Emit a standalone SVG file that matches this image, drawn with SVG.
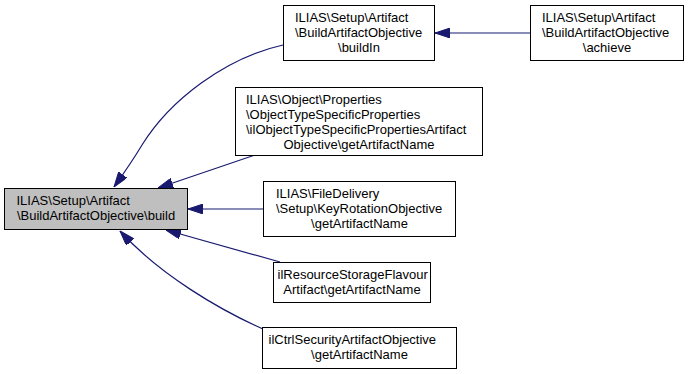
<svg xmlns="http://www.w3.org/2000/svg" width="688" height="374" viewBox="0 0 688 374">
<style>
.n rect{fill:#ffffff;stroke:#000000;stroke-width:1}
.n.root rect{fill:#bfbfbf}
.n text{font-family:"Liberation Sans",Arial,sans-serif;font-size:13px;fill:#000000}
.n text.m{text-anchor:middle}
.e path{fill:none;stroke:#191970;stroke-width:1.2;marker-end:url(#ah)}
</style>
<defs>
<marker id="ah" viewBox="0 0 15 10" refX="15" refY="5" markerWidth="15" markerHeight="10" markerUnits="userSpaceOnUse" orient="auto">
<path d="M0,0 L15,5 L0,10 z" fill="#191970" stroke="#191970" stroke-width="1"/>
</marker>
</defs>
<rect width="688" height="374" fill="#ffffff"/>
<g id="edges" class="e">
<path d="M530,33 L435,33"/>
<path d="M283,45 C225,58 170,100 142,145 C133,160 124,173 114,187"/>
<path d="M255,155 L158,188"/>
<path d="M263,209 L188,209"/>
<path d="M280,262 L166,230"/>
<path d="M263,329 C220,310 160,275 120,231"/>
</g>
<g id="root" class="n root">
<rect x="4.5" y="188.5" width="183" height="41"/>
<text x="16.5" y="205">ILIAS\Setup\Artifact</text>
<text class="m" x="96" y="220">\BuildArtifactObjective\build</text>
</g>
<g id="buildIn" class="n">
<rect x="283.5" y="5.5" width="151" height="55"/>
<text x="295" y="22">ILIAS\Setup\Artifact</text>
<text x="295" y="37">\BuildArtifactObjective</text>
<text class="m" x="359" y="52">\buildIn</text>
</g>
<g id="achieve" class="n">
<rect x="530.5" y="5.5" width="153" height="55"/>
<text x="542" y="22">ILIAS\Setup\Artifact</text>
<text x="542" y="37">\BuildArtifactObjective</text>
<text class="m" x="607" y="52">\achieve</text>
</g>
<g id="objtype" class="n">
<rect x="235.5" y="87.5" width="247" height="68"/>
<text x="246" y="103.5">ILIAS\Object\Properties</text>
<text x="246" y="118.5">\ObjectTypeSpecificProperties</text>
<text x="246" y="133.5">\ilObjectTypeSpecificPropertiesArtifact</text>
<text class="m" x="359" y="148.5">Objective\getArtifactName</text>
</g>
<g id="keyrot" class="n">
<rect x="263.5" y="181.5" width="192" height="55"/>
<text x="276" y="198">ILIAS\FileDelivery</text>
<text x="276" y="213">\Setup\KeyRotationObjective</text>
<text class="m" x="359.5" y="228">\getArtifactName</text>
</g>
<g id="ilres" class="n">
<rect x="273.5" y="262.5" width="157" height="40"/>
<text x="277.5" y="279">ilResourceStorageFlavour</text>
<text class="m" x="352" y="294">Artifact\getArtifactName</text>
</g>
<g id="ilctrl" class="n">
<rect x="262.5" y="327.5" width="194" height="41"/>
<text x="268.5" y="344">ilCtrlSecurityArtifactObjective</text>
<text class="m" x="359.5" y="359">\getArtifactName</text>
</g>
</svg>
